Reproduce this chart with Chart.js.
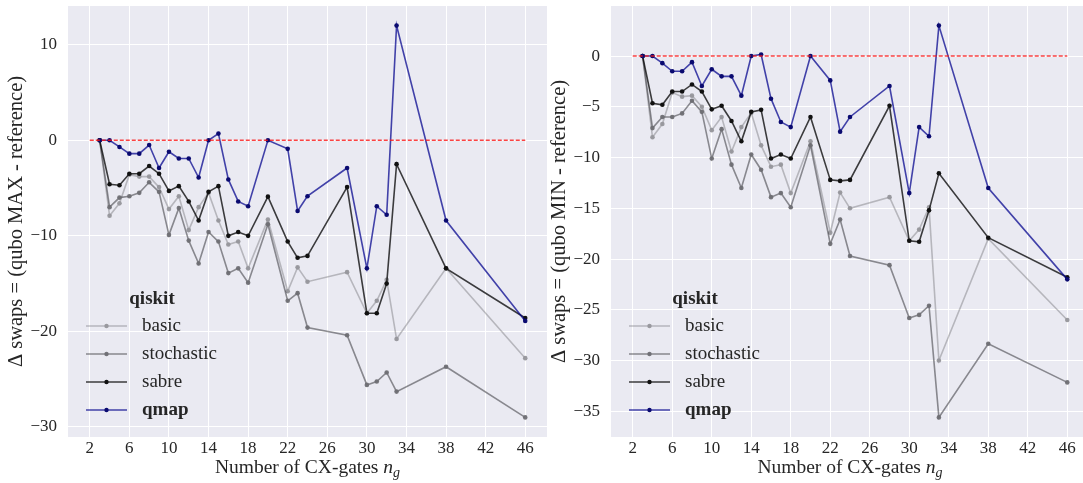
<!DOCTYPE html>
<html>
<head>
<meta charset="utf-8">
<script src="https://cdn.jsdelivr.net/npm/chart.js@4.4.1/dist/chart.umd.min.js"></script>
<style>
  html, body { margin: 0; padding: 0; background: #ffffff; overflow: hidden; width: 1083px; height: 483px; }
  .panel { position: absolute; top: 0; height: 483px; }
  #panelMax { left: 0; width: 560px; }
  #panelMin { left: 543px; width: 550px; }
</style>
</head>
<body>
<div class="panel" id="panelMax"><canvas id="chartMax" width="560" height="483"></canvas></div>
<div class="panel" id="panelMin"><canvas id="chartMin" width="550" height="483"></canvas></div>
<script>
// Number of CX gates of each benchmark circuit
const gateCounts = [3, 4, 5, 6, 7, 8, 9, 10, 11, 12, 13, 14, 15, 16, 17, 18, 20, 22, 23, 24, 28, 30, 31, 32, 33, 38, 46];

// Δ swaps against qubo MAX
const basicMax = [0, -7.9, -6.6, -3.6, -3.8, -3.8, -4.9, -7.2, -5.85, -9.4, -7.0, -5.5, -8.4, -10.9, -10.6, -13.4, -8.3, -15.8, -13.3, -14.8, -13.8, -18.1, -16.8, -14.6, -20.8, -13.4, -22.8];
const stochasticMax = [0, -7.0, -6.0, -5.85, -5.5, -4.4, -5.4, -9.9, -7.1, -10.5, -12.9, -9.6, -10.6, -13.9, -13.4, -14.9, -8.8, -16.8, -16.0, -19.6, -20.4, -25.6, -25.25, -24.3, -26.3, -23.7, -29.0];
const sabreMax = [0, -4.6, -4.7, -3.5, -3.5, -2.7, -3.5, -5.3, -4.8, -6.4, -8.4, -5.4, -4.8, -10.0, -9.6, -10.0, -5.9, -10.6, -12.3, -12.1, -4.9, -18.1, -18.1, -15.0, -2.5, -13.4, -18.6];
const qmapMax = [0, 0, -0.7, -1.4, -1.4, -0.5, -2.9, -1.2, -1.9, -1.9, -3.9, 0, 0.7, -4.1, -6.4, -6.9, 0, -0.9, -7.4, -5.85, -2.9, -13.4, -6.9, -7.8, 12.0, -8.4, -18.9];

// Δ swaps against qubo MIN
const basicMin = [0, -8.0, -6.7, -3.6, -4.0, -3.9, -5.0, -7.3, -6.0, -9.4, -7.0, -5.6, -8.8, -10.9, -10.7, -13.5, -8.4, -17.4, -13.45, -15.0, -13.9, -18.2, -17.1, -14.9, -30.0, -18.0, -26.0];
const stochasticMin = [0, -7.1, -6.0, -6.0, -5.65, -4.4, -5.5, -10.1, -7.2, -10.7, -13.0, -9.7, -11.2, -13.9, -13.5, -14.9, -8.8, -18.5, -16.1, -19.7, -20.6, -25.8, -25.5, -24.6, -35.6, -28.35, -32.15];
const sabreMin = [0, -4.65, -4.8, -3.5, -3.5, -2.8, -3.5, -5.25, -4.9, -6.4, -8.4, -5.5, -5.3, -10.1, -9.7, -10.1, -6.0, -12.2, -12.3, -12.2, -4.9, -18.2, -18.3, -15.2, -11.55, -17.9, -21.8];
const qmapMin = [0, 0, -0.7, -1.5, -1.5, -0.6, -2.95, -1.3, -2.0, -2.0, -3.9, 0, 0.15, -4.2, -6.5, -7.0, 0, -2.4, -7.45, -6.0, -2.95, -13.5, -7.0, -7.9, 3.0, -13.0, -22.0];

// zero reference line spans these gate counts
const referenceSpan = [2, 46];

// tick labels
const xTicks = [2, 6, 10, 14, 18, 22, 26, 30, 34, 38, 42, 46];
const yTicksMax = [-30, -20, -10, 0, 10];
const yTicksMin = [-35, -30, -25, -20, -15, -10, -5, 0];

const legendTitle = 'qiskit';
const seriesNames = ['basic', 'stochastic', 'sabre', 'qmap'];
const xTitle = 'Number of CX-gates ';
const yTitleMax = '\u0394 swaps = (qubo MAX - reference)';
const yTitleMin = '\u0394 swaps = (qubo MIN - reference)';

const SERIF = '"Liberation Serif", "DejaVu Serif", serif';
const TEXT = '#262626';

const styles = [
  { line: 'rgba(110,110,115,0.42)', point: 'rgba(150,150,155,0.95)' },
  { line: 'rgba(55,55,60,0.55)', point: 'rgba(110,110,115,0.95)' },
  { line: 'rgba(0,0,0,0.75)', point: '#111111' },
  { line: 'rgba(0,0,140,0.72)', point: '#0a0a70' }
];

function pairs(ys) { return gateCounts.map((x, i) => ({ x: x, y: ys[i] })); }
function fmt(v) { return v < 0 ? '\u2212' + Math.abs(v) : String(v); }

const areaPlugin = {
  id: 'area',
  beforeDraw(chart) {
    const a = chart.chartArea, c = chart.ctx;
    c.save();
    c.fillStyle = '#EAEAF2';
    c.fillRect(a.left, a.top, a.right - a.left, a.bottom - a.top);
    c.restore();
  }
};

const annotatePlugin = {
  id: 'annotate',
  afterDraw(chart, args, opts) {
    const a = chart.chartArea, c = chart.ctx;
    c.save();
    // y axis title
    c.fillStyle = TEXT;
    c.font = '20.5px ' + SERIF;
    c.textAlign = 'center';
    c.textBaseline = 'middle';
    c.translate(17, (a.top + a.bottom) / 2);
    c.rotate(-Math.PI / 2);
    c.fillText(opts.yTitle, 0, 0);
    c.restore();

    // x axis title with subscript
    c.save();
    c.fillStyle = TEXT;
    c.textBaseline = 'alphabetic';
    c.textAlign = 'left';
    const base = 473;
    c.font = '19.5px ' + SERIF;
    const w1 = c.measureText(xTitle).width;
    c.font = 'italic 19.5px ' + SERIF;
    const w2 = c.measureText('n').width;
    c.font = 'italic 14px ' + SERIF;
    const w3 = c.measureText('g').width;
    const cx = (a.left + a.right) / 2;
    let x = cx - (w1 + w2 + w3) / 2;
    c.font = '19.5px ' + SERIF;
    c.fillText(xTitle, x, base);
    x += w1;
    c.font = 'italic 19.5px ' + SERIF;
    c.fillText('n', x, base);
    x += w2;
    c.font = 'italic 14px ' + SERIF;
    c.fillText('g', x, base + 4);
    c.restore();

    // legend inside the plot
    c.save();
    const l = a.left;
    c.fillStyle = TEXT;
    c.textBaseline = 'middle';
    c.textAlign = 'center';
    c.font = 'bold 19px ' + SERIF;
    c.fillText(legendTitle, l + 84, 299);
    const rows = [326, 354, 382, 410];
    seriesNames.forEach((name, i) => {
      const y = rows[i];
      c.strokeStyle = styles[i].line;
      c.lineWidth = 1.6;
      c.beginPath();
      c.moveTo(l + 18, y);
      c.lineTo(l + 59, y);
      c.stroke();
      c.fillStyle = styles[i].point;
      c.beginPath();
      c.arc(l + 38.5, y, 2.2, 0, Math.PI * 2);
      c.fill();
      c.fillStyle = TEXT;
      c.textAlign = 'left';
      c.font = (name === 'qmap' ? 'bold ' : '') + '19px ' + SERIF;
      c.fillText(name, l + 74, y);
    });
    c.restore();
  }
};

function makeChart(id, series, yMin, yMax, yTicks, yTitle, padRight) {
  const datasets = series.map((ys, i) => ({
    label: seriesNames[i],
    data: pairs(ys),
    borderColor: styles[i].line,
    backgroundColor: styles[i].point,
    pointBackgroundColor: styles[i].point,
    pointBorderWidth: 0,
    pointRadius: 2.3,
    borderWidth: 1.6,
    tension: 0,
    order: 3 - i
  }));
  datasets.push({
    label: 'reference',
    data: referenceSpan.map(x => ({ x: x, y: 0 })),
    borderColor: 'rgba(250,20,20,0.8)',
    backgroundColor: 'rgba(250,20,20,0.8)',
    borderWidth: 1.4,
    borderDash: [4, 2],
    pointRadius: 0,
    order: -1
  });
  return new Chart(document.getElementById(id), {
    type: 'line',
    data: { datasets: datasets },
    options: {
      responsive: false,
      animation: false,
      layout: { padding: { top: 6, right: padRight, left: 0, bottom: 0 } },
      plugins: {
        legend: { display: false },
        tooltip: { enabled: false },
        annotate: { yTitle: yTitle }
      },
      scales: {
        x: {
          type: 'linear',
          min: -0.2,
          max: 48.2,
          afterBuildTicks: s => { s.ticks = xTicks.map(v => ({ value: v })); },
          afterFit: s => { s.height = 46; s.paddingLeft = 0; s.paddingRight = 0; },
          ticks: { font: { family: SERIF, size: 17 }, color: TEXT, padding: 1, maxRotation: 0, autoSkip: false, includeBounds: false },
          grid: { color: '#ffffff', lineWidth: 1, drawTicks: false },
          border: { display: false }
        },
        y: {
          type: 'linear',
          min: yMin,
          max: yMax,
          afterBuildTicks: s => { s.ticks = yTicks.map(v => ({ value: v })); },
          afterFit: s => { s.width = 68; s.paddingTop = 0; s.paddingBottom = 0; },
          ticks: { font: { family: SERIF, size: 17 }, color: TEXT, padding: 11, callback: v => fmt(v), includeBounds: false },
          grid: { color: '#ffffff', lineWidth: 1, drawTicks: false },
          border: { display: false }
        }
      }
    },
    plugins: [areaPlugin, annotatePlugin]
  });
}

makeChart('chartMax', [basicMax, stochasticMax, sabreMax, qmapMax], -31.05, 14.05, yTicksMax, yTitleMax, 13);
makeChart('chartMin', [basicMin, stochasticMin, sabreMin, qmapMin], -37.53, 4.93, yTicksMin, yTitleMin, 0);
</script>
</body>
</html>
